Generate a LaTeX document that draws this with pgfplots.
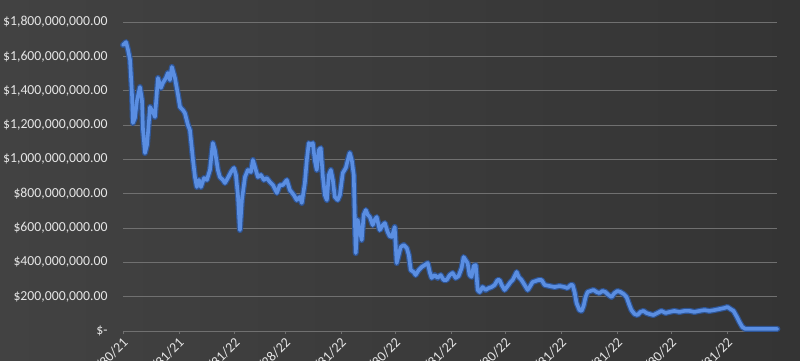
\documentclass[border=0pt]{standalone}
\usepackage{fontspec}
\setmainfont{Carlito}
\usepackage{pgfplots}
\usepackage{pgfplotstable}
\pgfplotsset{compat=1.18}
\definecolor{bgl}{HTML}{424242}
\definecolor{bgm}{HTML}{535353}
\definecolor{bgr}{HTML}{343434}
\definecolor{gridc}{HTML}{707070}
\definecolor{labc}{HTML}{E6E6E6}
\definecolor{lineb}{HTML}{5A8EE2}
\definecolor{lined}{HTML}{2E5596}

\pgfplotstableread{
d v
0 1666
1.7 1683
2.8 1637
3.9 1579
5.0 1375
5.5 1212
6.6 1241
7.8 1346
9.4 1421
10.5 1346
11.1 1171
12.2 1037
13.3 1083
15.0 1305
16.6 1276
17.7 1247
19.4 1474
21.0 1416
22.1 1445
23.8 1474
24.9 1503
26.0 1462
27.1 1538
28.8 1474
30.5 1375
31.6 1305
33.2 1287
34.3 1270
36.0 1200
37.1 1171
38.8 996
39.9 897
40.9 839
42.1 880
43.2 839
44.9 891
46.5 880
48.2 938
49.8 1095
50.9 1054
52.6 938
53.7 897
55.4 880
56.5 862
58.1 891
59.8 926
61.5 950
62.6 909
63.7 792
64.8 588
65.9 763
67.6 897
69.2 938
70.9 926
72.0 996
73.6 938
74.8 897
76.4 909
78.1 880
79.7 891
81.4 868
83.1 850
85.3 804
86.9 850
88.6 850
90.8 880
92.5 821
94.7 792
96.3 763
98.0 781
99.1 746
100.8 862
101.9 996
103.0 1095
104.1 1083
105.2 1095
106.3 996
107.4 938
108.5 1054
109.6 1066
110.7 909
111.9 792
113.0 763
114.1 909
115.2 938
116.3 880
117.4 781
119.0 763
120.2 792
121.8 920
123.5 950
124.6 996
125.7 1037
126.8 996
127.9 909
128.5 647
129.0 454
130.1 647
131.2 588
132.3 530
133.4 676
134.6 705
135.7 676
136.8 664
138.4 617
139.5 647
140.6 664
142.3 588
144.0 617
145.1 629
146.7 577
147.8 553
149.0 548
150.6 606
151.7 396
152.8 443
153.9 489
155.6 501
157.3 483
158.4 443
159.5 355
161.1 344
162.2 326
163.9 355
165.6 373
167.2 384
168.9 396
170.0 344
171.1 309
172.8 326
174.4 309
176.1 326
177.7 297
179.4 297
181.1 326
182.7 338
184.4 309
186.0 320
187.7 367
188.8 431
189.9 413
191.0 396
192.1 326
193.2 315
194.4 379
195.5 384
196.6 239
197.7 227
199.3 256
201.0 239
202.7 250
204.3 256
206.0 268
207.6 297
208.7 297
209.9 268
211.5 239
213.2 262
214.8 285
216.0 297
217.1 320
218.2 344
219.3 315
220.9 297
222.6 268
224.3 239
225.4 256
227.0 285
228.7 291
230.3 297
232.0 297
233.7 268
236.4 262
239.2 256
242.0 262
244.7 256
246.4 250
248.1 268
249.2 268
250.3 227
251.4 163
253.0 122
254.2 117
255.3 146
256.4 198
257.5 227
259.1 233
260.8 239
262.5 227
264.1 221
265.8 233
267.4 227
269.1 210
270.8 198
272.4 221
274.1 233
275.7 227
277.4 216
279.1 198
280.7 151
281.8 122
283.5 99
285.2 93
286.8 111
288.5 117
290.1 105
291.8 99
294.0 93
296.2 105
298.4 117
300.7 105
302.9 111
305.6 117
308.4 111
311.2 117
314.0 117
316.7 111
319.5 117
322.3 122
325.0 117
327.8 122
330.6 128
333.3 134
335.0 140
336.7 128
338.4 117
340.0 87
341.7 52
343.3 23
345.0 12
347.2 12
362.7 12
}\datatable

\begin{document}
\begin{tikzpicture}[x=1bp,y=1bp]
\useasboundingbox (0,0) rectangle (800,360);
\shade[left color=bgl, middle color=bgm, right color=bgr] (0,0) rectangle (800,360);
\begin{axis}[
  at={(123bp,29bp)}, anchor=south west,
  scale only axis, width=654bp, height=309bp,
  xmin=0, xmax=362.5, ymin=0, ymax=1800,
  clip=false,
  axis x line*=bottom, axis y line*=left,
  x axis line style={draw=gridc, line width=1bp, -},
  y axis line style={draw=none},
  ymajorgrids, grid style={draw=gridc, line width=0.9bp},
  xtick={0,31,62,90,121,151,182,212,243,274,304,335},
  xticklabels={11/30/21,12/31/21,1/31/22,2/28/22,3/31/22,4/30/22,5/31/22,6/30/22,7/31/22,8/31/22,9/30/22,10/31/22},
  x tick style={draw=gridc, line width=0.8bp},
  y tick style={draw=none},
  tick align=outside, major tick length=3bp,
  x tick label style={rotate=45, anchor=east, font=\fontsize{14}{16}\selectfont, text=labc, yshift=-6bp, xshift=1bp},
  ytick={0,200,400,600,800,1000,1200,1400,1600,1800},
  yticklabels={\$-,{\$200,000,000.00},{\$400,000,000.00},{\$600,000,000.00},{\$800,000,000.00},{\$1,000,000,000.00},{\$1,200,000,000.00},{\$1,400,000,000.00},{\$1,600,000,000.00},{\$1,800,000,000.00}},
  y tick label style={font=\fontsize{13.8}{15}\selectfont, text=labc, anchor=east, xshift=-9bp},
]
\addplot[draw=lined, line width=6bp, line join=round, line cap=round] table[x=d,y=v] {\datatable};
\addplot[draw=lineb, line width=3.6bp, line join=round, line cap=round] table[x=d,y=v] {\datatable};
\end{axis}
\end{tikzpicture}
\end{document}
